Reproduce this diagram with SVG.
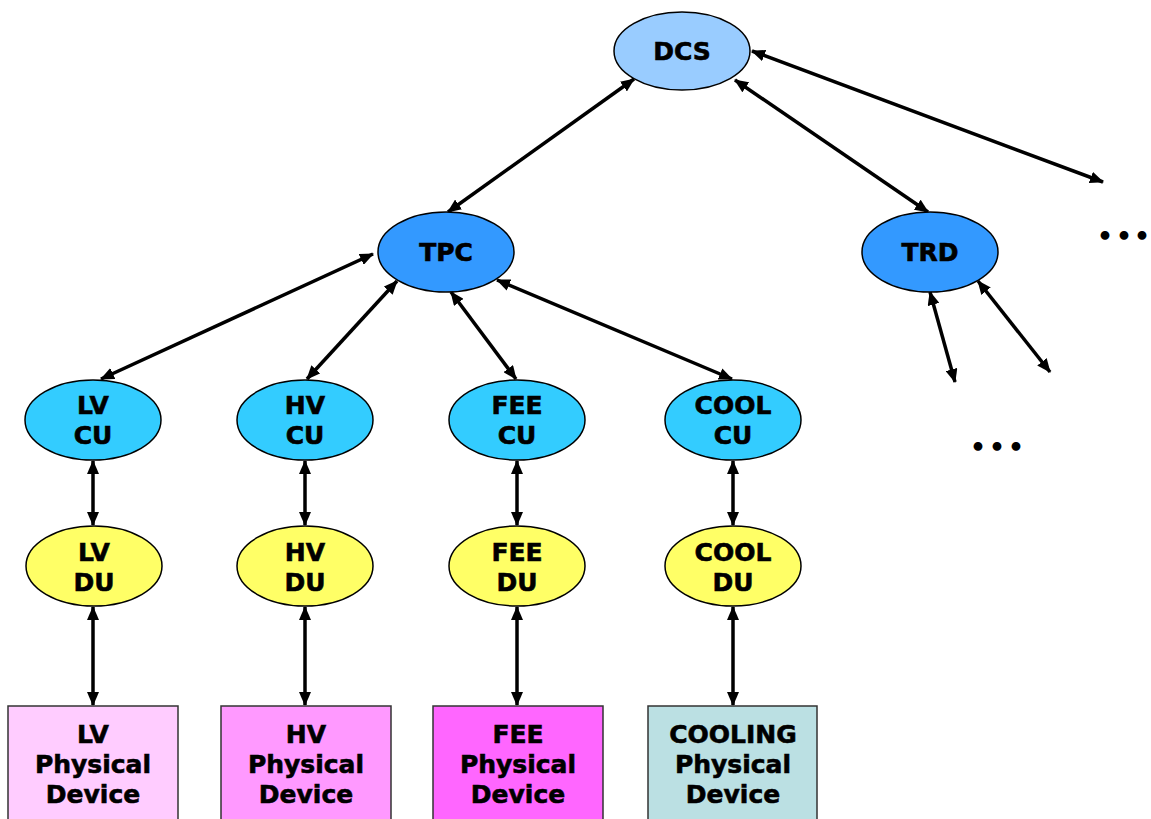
<svg xmlns="http://www.w3.org/2000/svg" width="1151" height="819" viewBox="0 0 1151 819">
  <style>
    text { font-family: "DejaVu Sans", Verdana, sans-serif; font-weight: bold; font-size: 25px; text-anchor: middle; fill: #000; stroke: #000; stroke-width: 0.6; }
    ellipse { stroke: #000; stroke-width: 1.5; }
    .box { stroke: #333; stroke-width: 1.5; }
    .link { stroke: #000; stroke-width: 3.5; fill: none; marker-start: url(#head); marker-end: url(#head); }
    .top { fill: #99CCFF; }
    .det { fill: #3399FF; }
    .cu { fill: #33CCFF; }
    .du { fill: #FFFF66; }
    .dots { font-size: 25px; stroke: none; }
  </style>
  <defs>
    <marker id="head" viewBox="0 0 14 12" markerWidth="14" markerHeight="12" refX="13" refY="6" markerUnits="userSpaceOnUse" orient="auto-start-reverse">
      <path d="M0,0 L14,6 L0,12 z" fill="#000"/>
    </marker>
  </defs>
  <rect width="1151" height="819" fill="#fff"/>

  <!-- connectors -->
  <g id="connectors">
    <line class="link" x1="634" y1="79" x2="448" y2="212"/>
    <line class="link" x1="735" y1="80" x2="928" y2="212"/>
    <line class="link" x1="752" y1="51" x2="1103" y2="182"/>
    <line class="link" x1="373" y1="254" x2="101" y2="379"/>
    <line class="link" x1="397" y1="281" x2="307" y2="379"/>
    <line class="link" x1="451" y1="292" x2="516" y2="379"/>
    <line class="link" x1="497" y1="280" x2="732" y2="379"/>
    <line class="link" x1="930" y1="292" x2="955" y2="382"/>
    <line class="link" x1="978" y1="281" x2="1050" y2="372"/>
    <line class="link" x1="93" y1="461" x2="93" y2="525"/>
    <line class="link" x1="305" y1="461" x2="305" y2="525"/>
    <line class="link" x1="517" y1="461" x2="517" y2="525"/>
    <line class="link" x1="733" y1="461" x2="733" y2="525"/>
    <line class="link" x1="93" y1="607" x2="93" y2="705"/>
    <line class="link" x1="305" y1="607" x2="305" y2="705"/>
    <line class="link" x1="517" y1="607" x2="517" y2="705"/>
    <line class="link" x1="733" y1="607" x2="733" y2="705"/>
  </g>

  <!-- top level -->
  <g id="dcs">
    <ellipse class="top" cx="682" cy="51" rx="68" ry="39"/>
    <text x="682" y="60">DCS</text>
  </g>

  <!-- detectors -->
  <g id="tpc">
    <ellipse class="det" cx="446" cy="252" rx="68" ry="40"/>
    <text x="446" y="261">TPC</text>
  </g>
  <g id="trd">
    <ellipse class="det" cx="930" cy="252" rx="68" ry="40"/>
    <text x="930" y="261">TRD</text>
  </g>

  <!-- control units -->
  <g id="lv-cu">
    <ellipse class="cu" cx="93" cy="420" rx="68" ry="40"/>
    <text x="93" y="414">LV</text>
    <text x="93" y="444">CU</text>
  </g>
  <g id="hv-cu">
    <ellipse class="cu" cx="305" cy="420" rx="68" ry="40"/>
    <text x="305" y="414">HV</text>
    <text x="305" y="444">CU</text>
  </g>
  <g id="fee-cu">
    <ellipse class="cu" cx="517" cy="420" rx="68" ry="40"/>
    <text x="517" y="414">FEE</text>
    <text x="517" y="444">CU</text>
  </g>
  <g id="cool-cu">
    <ellipse class="cu" cx="733" cy="420" rx="68" ry="40"/>
    <text x="733" y="414">COOL</text>
    <text x="733" y="444">CU</text>
  </g>

  <!-- device units -->
  <g id="lv-du">
    <ellipse class="du" cx="94" cy="566" rx="68" ry="40"/>
    <text x="94" y="561">LV</text>
    <text x="94" y="591">DU</text>
  </g>
  <g id="hv-du">
    <ellipse class="du" cx="305" cy="566" rx="68" ry="40"/>
    <text x="305" y="561">HV</text>
    <text x="305" y="591">DU</text>
  </g>
  <g id="fee-du">
    <ellipse class="du" cx="517" cy="566" rx="68" ry="40"/>
    <text x="517" y="561">FEE</text>
    <text x="517" y="591">DU</text>
  </g>
  <g id="cool-du">
    <ellipse class="du" cx="733" cy="566" rx="68" ry="40"/>
    <text x="733" y="561">COOL</text>
    <text x="733" y="591">DU</text>
  </g>

  <!-- physical devices -->
  <g id="lv-device">
    <rect class="box" x="8" y="706" width="170" height="120" fill="#FFCCFF"/>
    <text x="93" y="743">LV</text>
    <text x="93" y="773">Physical</text>
    <text x="93" y="803">Device</text>
  </g>
  <g id="hv-device">
    <rect class="box" x="221" y="706" width="170" height="120" fill="#FF99FF"/>
    <text x="306" y="743">HV</text>
    <text x="306" y="773">Physical</text>
    <text x="306" y="803">Device</text>
  </g>
  <g id="fee-device">
    <rect class="box" x="433" y="706" width="170" height="120" fill="#FF66FF"/>
    <text x="518" y="743">FEE</text>
    <text x="518" y="773">Physical</text>
    <text x="518" y="803">Device</text>
  </g>
  <g id="cooling-device">
    <rect class="box" x="648" y="706" width="169" height="120" fill="#BBE0E3"/>
    <text x="733" y="743">COOLING</text>
    <text x="733" y="773">Physical</text>
    <text x="733" y="803">Device</text>
  </g>

  <!-- continuation marks -->
  <g id="more-detectors">
    <text class="dots" x="1105 1124 1142" y="245">•••</text>
  </g>
  <g id="more-trd">
    <text class="dots" x="978 997 1016" y="456">•••</text>
  </g>
</svg>
